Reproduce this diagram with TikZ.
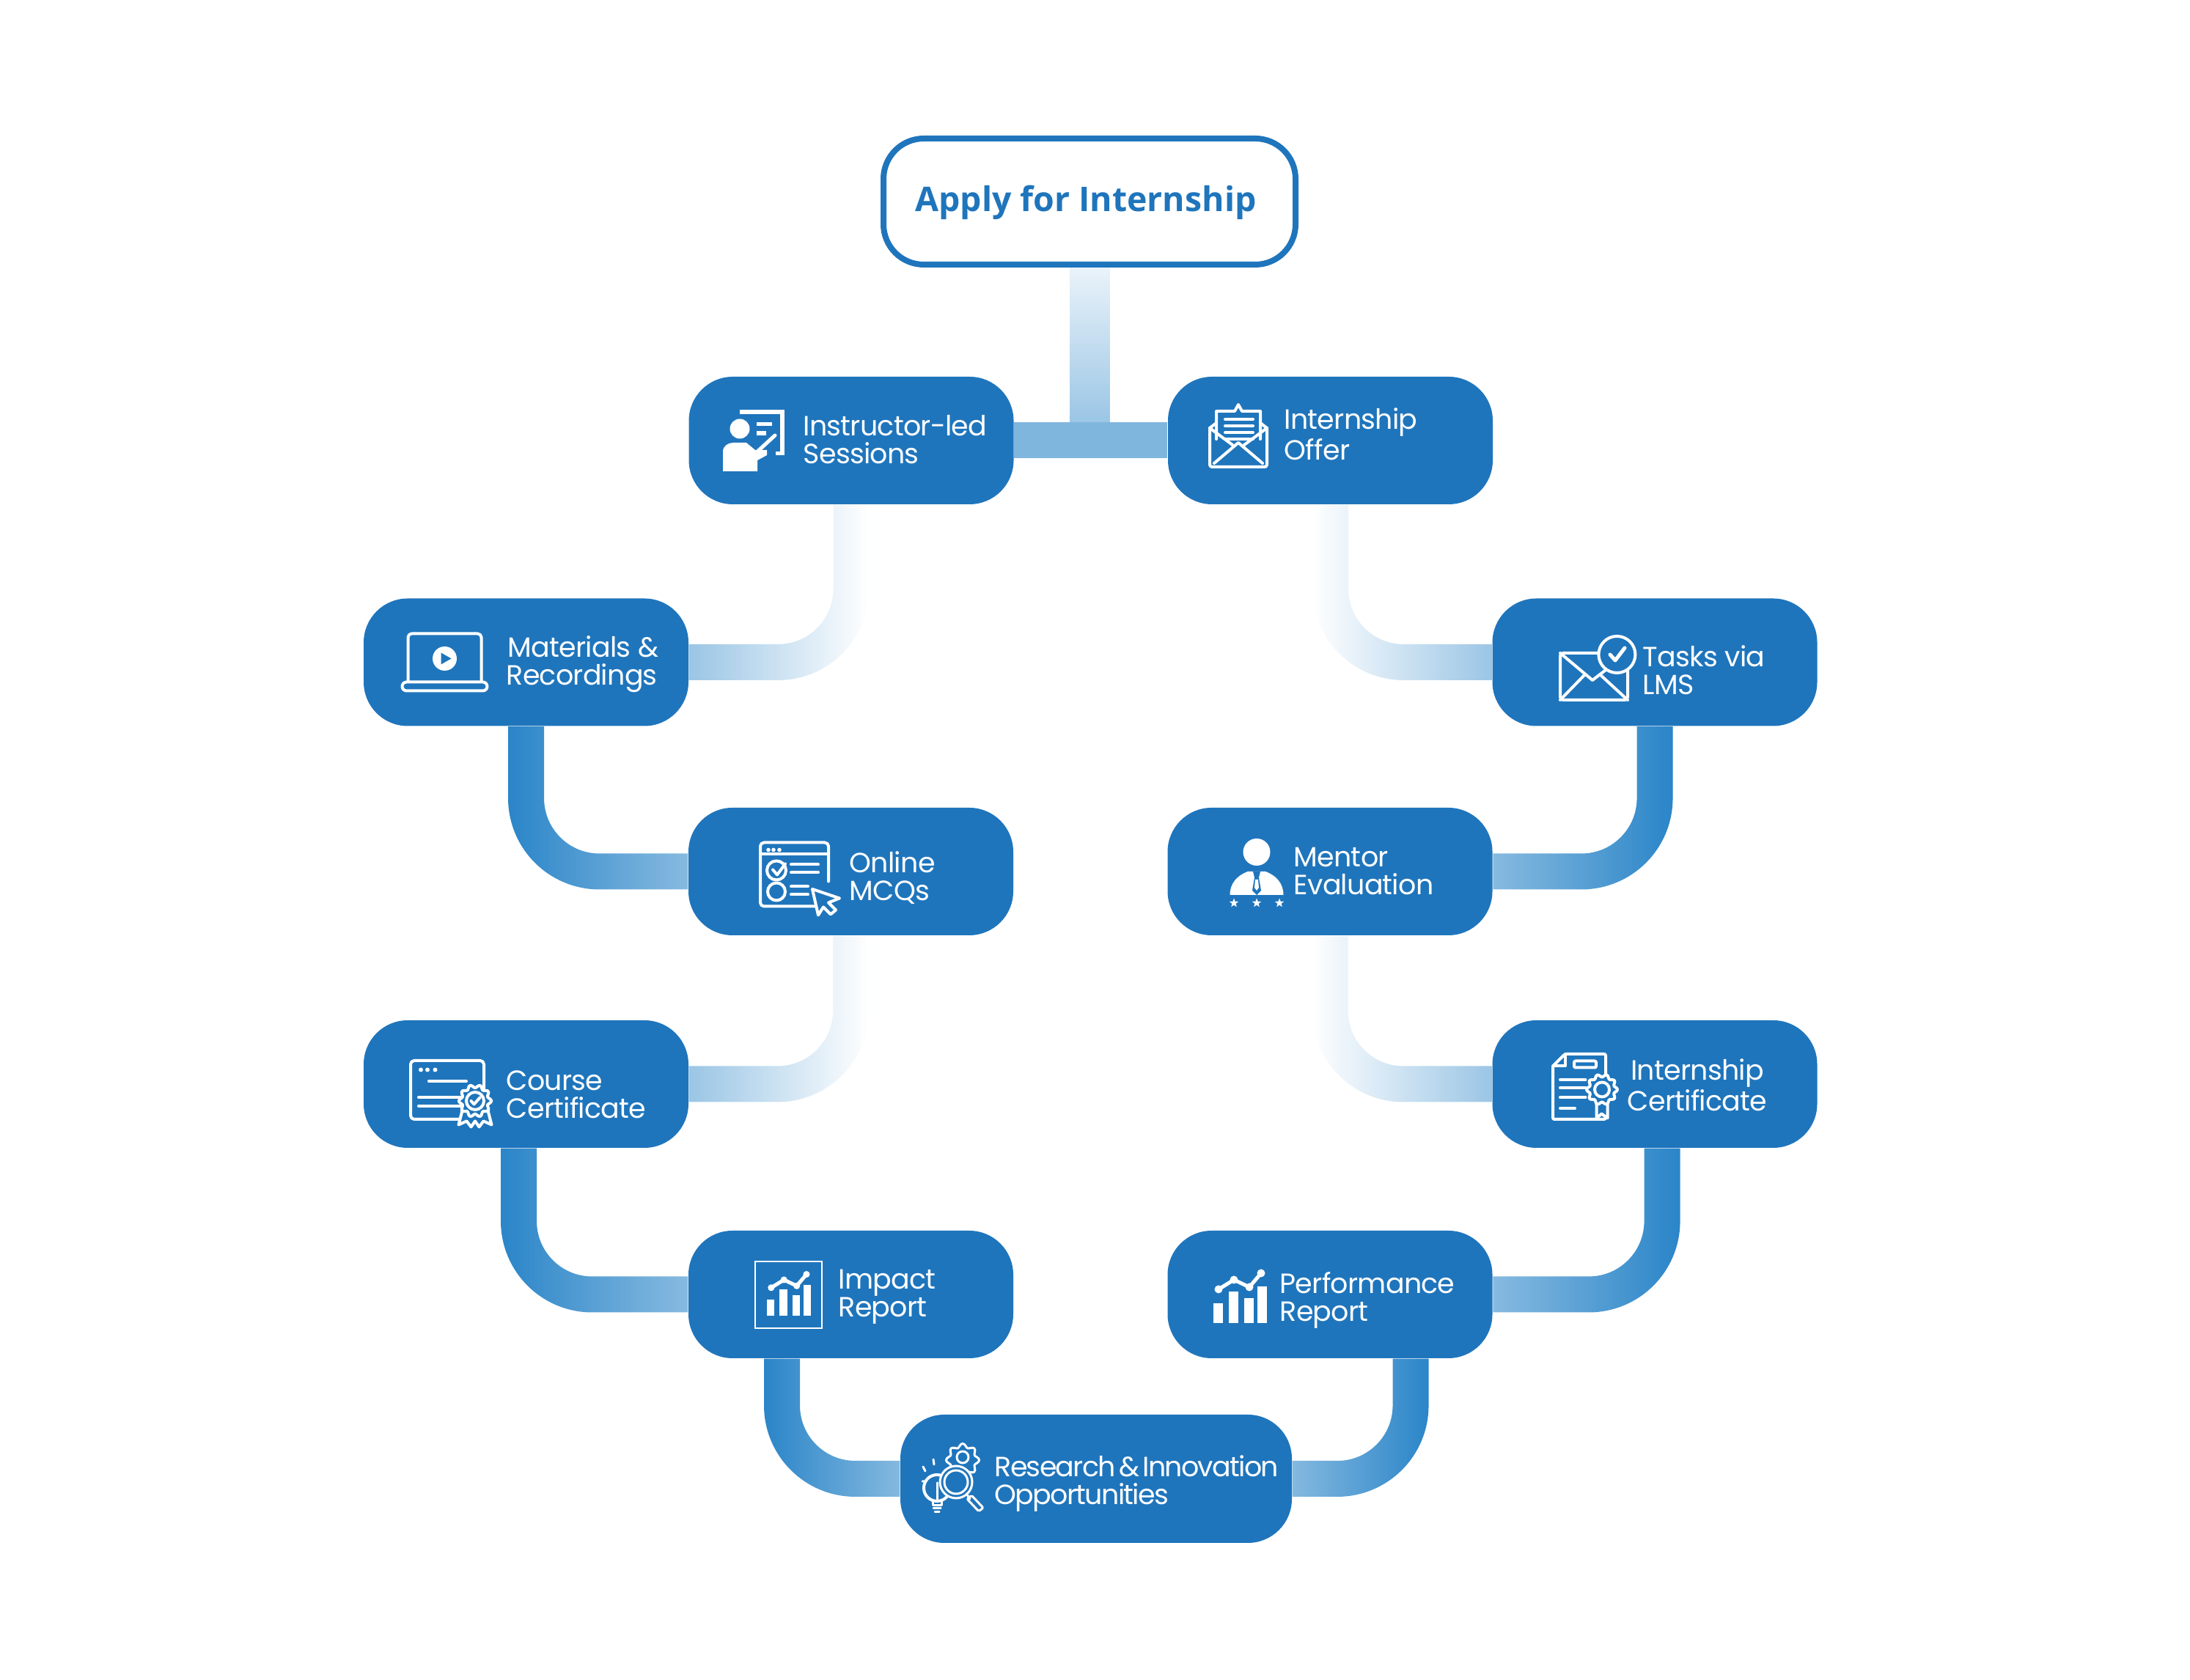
\documentclass[tikz,border=0pt]{standalone}
\usepackage{fontspec}
\setmainfont{Poppins}[LetterSpace=-2]
\newfontfamily\headfont{Open Sans}
\newfontfamily\widefont{Poppins}[LetterSpace=-4.5,WordSpace=0.5]
\usetikzlibrary{fadings,shapes.geometric}
\definecolor{brand}{HTML}{1F75BC}
\definecolor{flow}{HTML}{2A85C8}
\tikzfading[name=ebbright,left color=transparent!48,right color=transparent!100]
\tikzfading[name=ebbleft,left color=transparent!100,right color=transparent!48]
\tikzfading[name=deepright,left color=transparent!0,right color=transparent!48]
\tikzfading[name=deepleft,left color=transparent!48,right color=transparent!0]
\tikzfading[name=drop,top color=transparent!95,bottom color=transparent!48]
\tikzset{
  stage/.style={
    fill=brand,rounded corners=0.6cm,
    minimum width=4.43cm,minimum height=1.74cm,inner sep=0pt
  },
  stagetext/.style={
    text=white,anchor=west,align=left,inner sep=0pt,
    font=\fontsize{10.8}{10.8}\selectfont
  },
  link/.style={draw=flow,line width=0.49cm,rounded corners=1cm},
  trace/.style={draw=white,line width=0.04cm,line join=round,line cap=round},
  solid/.style={fill=white,draw=none},
  pics/seal/.style={code={
    \draw[trace,fill=brand] plot[domain=0:360,samples=65,smooth]
      (\x:{0.2+0.022*cos(10*\x)}) -- cycle;
    \draw[trace] (0,0) circle (0.12);
  }},
  pics/tally/.style={code={
    \foreach \bx/\bh in {0/0.27,0.21/0.43,0.42/0.34,0.6/0.5} {
      \fill[solid] (\bx,0) rectangle (\bx+0.125,\bh);
    }
    \draw[trace,line width=0.05cm] (0.07,0.46) -- (0.28,0.59) -- (0.49,0.49) -- (0.65,0.68);
    \foreach \dx/\dy in {0.07/0.46,0.28/0.59,0.49/0.49,0.65/0.68} {
      \fill[solid] (\dx,\dy) circle (0.055);
    }
  }},
  pics/presenter/.style={code={
    \fill[solid] (-0.19,0.16) circle (0.135);
    \fill[solid] (-0.19,0.36) rectangle (0.42,0.42);
    \fill[solid] (0.36,0.42) rectangle (0.42,-0.2);
    \fill[solid] (0.3,-0.15) rectangle (0.42,-0.2);
    \fill[solid] (0.04,0.2) rectangle (0.25,0.25);
    \fill[solid] (0.04,0.07) rectangle (0.17,0.13);
    \draw[trace,line width=0.05cm] (0.29,0.07) -- (0.04,-0.16);
    \fill[solid] (-0.42,-0.42) -- (-0.42,-0.15) to[out=90,in=180] (-0.28,-0.03)
      -- (-0.1,-0.03) -- (0.02,-0.13) -- (0.18,-0.13) -- (0.18,-0.2) -- (0.05,-0.27)
      -- (0.05,-0.42) -- cycle;
  }},
  pics/openmail/.style={code={
    \draw[trace] (-0.3,-0.05) -- (-0.3,0.33) -- (-0.05,0.33) -- (0,0.42) -- (0.05,0.33)
      -- (0.3,0.33) -- (0.3,-0.05);
    \foreach \ly in {0.22,0.13,0.04,-0.05} {
      \draw[trace] (-0.18,\ly) -- (0.2,\ly);
    }
    \draw[trace,rounded corners=0.03cm] (-0.39,0.1) -- (-0.39,-0.43) -- (0.39,-0.43) -- (0.39,0.1);
    \draw[trace] (-0.39,0.1) -- (-0.3,0.17) (0.39,0.1) -- (0.3,0.17);
    \draw[trace] (-0.39,0.1) -- (-0.08,-0.13) (0.39,0.1) -- (0.08,-0.13);
    \draw[trace] (-0.33,-0.38) -- (0,-0.1) -- (0.33,-0.38);
  }},
  pics/laptop/.style={code={
    \draw[trace,rounded corners=0.05cm] (-0.5,-0.26) -- (-0.5,0.39) -- (0.5,0.39) -- (0.5,-0.26);
    \draw[trace,rounded corners=0.06cm] (-0.58,-0.27) rectangle (0.58,-0.39);
    \fill[solid] (0,0.05) circle (0.165);
    \fill[brand] (-0.05,0.13) -- (0.09,0.05) -- (-0.05,-0.03) -- cycle;
  }},
  pics/quiz/.style={code={
    \draw[trace,rounded corners=0.05cm] (0.39,-0.04) -- (0.39,0.49) -- (-0.54,0.49) -- (-0.54,-0.38) -- (0.3,-0.38);
    \draw[trace] (-0.54,0.33) -- (0.39,0.33);
    \foreach \dx in {-0.43,-0.36,-0.28} {
      \fill[solid] (\dx,0.39) circle (0.028);
    }
    \draw[trace] (-0.32,0.11) circle (0.13);
    \draw[trace] (-0.37,0.12) -- (-0.31,0.05) -- (-0.2,0.2);
    \draw[trace] (-0.32,-0.18) circle (0.12);
    \draw[trace] (-0.12,0.19) -- (0.25,0.19) (-0.12,0.08) -- (0.25,0.08);
    \draw[trace] (-0.12,-0.11) -- (0.11,-0.11) (-0.12,-0.22) -- (0.11,-0.22);
    \draw[trace,fill=brand] (0.17,-0.145) -- (0.54,-0.27) -- (0.39,-0.33) -- (0.49,-0.43)
      -- (0.42,-0.49) -- (0.32,-0.39) -- (0.25,-0.5) -- cycle;
  }},
  pics/diploma/.style={code={
    \draw[trace,rounded corners=0.05cm] (-0.555,-0.345) rectangle (0.445,0.455);
    \foreach \dx in {-0.415,-0.325,-0.22} {
      \fill[solid] (\dx,0.33) circle (0.03);
    }
    \draw[trace] (-0.305,0.175) -- (0.205,0.175);
    \draw[trace] (-0.445,-0.045) -- (0.145,-0.045);
    \draw[trace] (-0.445,-0.165) -- (0.145,-0.165);
    \draw[trace,fill=brand] (0.17,-0.15) -- (0.1,-0.42) -- (0.21,-0.37) -- (0.27,-0.45)
      -- (0.325,-0.37) -- (0.38,-0.45) -- (0.44,-0.37) -- (0.55,-0.42) -- (0.48,-0.15) -- cycle;
    \pic at (0.325,-0.095) {seal};
    \draw[trace] (0.27,-0.095) -- (0.31,-0.14) -- (0.39,-0.05);
  }},
  pics/taskmail/.style={code={
    \draw[trace,rounded corners=0.04cm] (-0.5,-0.44) rectangle (0.42,0.2);
    \draw[trace] (-0.5,0.2) -- (-0.06,-0.17) -- (0.42,0.2);
    \draw[trace] (-0.5,-0.44) -- (-0.17,-0.1) (0.42,-0.44) -- (0.05,-0.1);
    \draw[trace,fill=brand] (0.274,0.18) circle (0.25);
    \draw[trace,line width=0.05cm] (0.18,0.18) -- (0.25,0.1) -- (0.38,0.27);
  }},
  pics/mentorbust/.style={code={
    \fill[solid] (0,0.285) circle (0.185);
    \fill[solid] (-0.365,-0.3) to[out=90,in=200] (-0.12,0.02) -- (0.12,0.02)
      to[out=-20,in=90] (0.365,-0.3) -- cycle;
    \fill[brand] (-0.05,0.02) -- (0.05,0.02) -- (0.03,-0.06) -- (0.06,-0.24)
      -- (0,-0.3) -- (-0.06,-0.24) -- (-0.03,-0.06) -- cycle;
    \fill[solid] (-0.02,-0.09) -- (0.02,-0.09) -- (0.03,-0.2) -- (0,-0.24) -- (-0.03,-0.2) -- cycle;
    \foreach \sx in {-0.31,0,0.31} {
      \node[star,star points=5,star point ratio=2.4,solid,inner sep=0pt,minimum size=0.13cm]
        at (\sx,-0.41) {};
    }
  }},
  pics/certsheet/.style={code={
    \draw[trace,rounded corners=0.02cm] (0.275,-0.05) -- (0.275,0.445) -- (-0.28,0.445)
      -- (-0.445,0.28) -- (-0.445,-0.445) -- (0.275,-0.445) -- (0.275,-0.32);
    \draw[trace] (-0.28,0.445) -- (-0.28,0.28) -- (-0.445,0.28);
    \draw[trace,rounded corners=0.02cm] (-0.155,0.35) rectangle (0.145,0.26);
    \foreach \ly in {0.095,-0.015,-0.145} {
      \draw[trace] (-0.345,\ly) -- (0,\ly);
    }
    \draw[trace] (-0.345,-0.295) -- (-0.145,-0.295);
    \draw[trace,fill=brand] (0.15,-0.12) -- (0.15,-0.43) -- (0.22,-0.37) -- (0.3,-0.43) -- (0.3,-0.12) -- cycle;
    \draw[trace,fill=brand] plot[domain=0:360,samples=65,smooth]
      ({0.225+(0.19+0.02*cos(10*\x))*cos(\x)},{-0.04+(0.19+0.02*cos(10*\x))*sin(\x)}) -- cycle;
    \draw[trace] (0.225,-0.04) circle (0.1);
  }},
  pics/innovation/.style={code={
    \draw[trace,line width=0.03cm] plot[domain=0:360,samples=65,smooth]
      ({0.14+(0.2+0.025*cos(8*\x))*cos(\x)},{0.26+(0.2+0.025*cos(8*\x))*sin(\x)}) -- cycle;
    \draw[trace,line width=0.03cm] (0.14,0.3) circle (0.08);
    \draw[trace,fill=brand] (-0.21,-0.12) circle (0.18);
    \draw[trace,line width=0.03cm] (-0.27,-0.3) rectangle (-0.15,-0.36)
      (-0.26,-0.4) -- (-0.16,-0.4);
    \draw[trace,line width=0.03cm] (-0.24,-0.45) -- (-0.18,-0.45);
    \draw[trace,line width=0.03cm] (-0.21,-0.3) -- (-0.21,-0.05);
    \draw[trace,line width=0.03cm] (-0.4,0.17) -- (-0.37,0.11) (-0.26,0.27) -- (-0.25,0.2) (-0.41,-0.03) -- (-0.39,-0.03);
    \draw[trace,line width=0.03cm,fill=brand] (0.05,-0.04) circle (0.22);
    \draw[trace,line width=0.03cm] (0.05,-0.04) circle (0.16);
    \draw[trace,line width=0.03cm] (0.19,-0.2) -- (0.24,-0.27);
    \draw[trace,line width=0.03cm,rounded corners=0.02cm] (0.2,-0.27) -- (0.26,-0.22) -- (0.42,-0.39) -- (0.36,-0.44) -- cycle;
  }}
}

\begin{document}
\begin{tikzpicture}[x=1cm,y=1cm]
\useasboundingbox (0,0) rectangle (29.87,22.92);

% Boxes first, the links below refer to their names.
\node[draw=brand,fill=white,line width=0.08cm,rounded corners=0.55cm,
      minimum width=5.62cm,minimum height=1.72cm,inner sep=0pt]
      (app) at (14.86,20.17) {};
\node[text=brand,inner sep=0pt,font=\headfont\bfseries\fontsize{13.2}{17}\selectfont]
      (apptxt) at (14.81,20.16) {Apply for Internship};

\foreach \x/\y/\name in {
  11.61/16.91/ins, 18.145/16.91/off,
  7.175/13.885/mat, 22.57/13.885/tsk,
  11.605/11.03/onl, 18.14/11.03/men,
  7.175/8.13/crs, 22.57/8.13/cer,
  11.605/5.26/imp, 18.14/5.26/prf} {
  \node[stage] (\name) at (\x,\y) {};
}
\node[stage,minimum width=5.34cm,minimum height=1.75cm] (res) at (14.95,2.745) {};

\coordinate (tee) at ([yshift=0.245cm]ins.east -| app.south);
\draw[draw=flow,line width=0.55cm,path fading=drop] (app.south) -- (tee);
\draw[draw=flow!60!white,line width=0.49cm] (ins.east) -- (off.west);

\draw[link,path fading=ebbright] (ins.south) |- (mat.east);
\draw[link,path fading=ebbleft] (off.south) |- (tsk.west);
\draw[link,path fading=deepright] (mat.south) |- (onl.west);
\draw[link,path fading=deepleft] (tsk.south) |- (men.east);
\draw[link,path fading=ebbright] (onl.south) |- (crs.east);
\draw[link,path fading=ebbleft] (men.south) |- (cer.west);
\draw[link,path fading=deepright] ([xshift=-0.1cm]crs.south) |- (imp.west);
\draw[link,path fading=deepleft] ([xshift=0.1cm]cer.south) |- (prf.east);
\draw[link,path fading=deepright] ([xshift=-0.94cm]imp.south) |- (res.west);
\draw[link,path fading=deepleft] ([xshift=1.1cm]prf.south) |- (res.east);

\foreach \x/\y/\name/\txt in {
  10.95/16.92/instxt/Instructor-led\\Sessions,
  17.51/17.00/offtxt/Internship\\Offer,
  6.90/13.86/mattxt/{\hspace*{0.02cm}Materials \&\\Recordings},
  22.40/13.78/tsktxt/Tasks via\\LMS,
  11.58/10.94/onltxt/Online\\MCQs,
  17.64/11.03/mentxt/Mentor\\Evaluation,
  6.90/7.99/crstxt/Course\\Certificate,
  11.43/5.23/imptxt/Impact\\Report,
  17.45/5.18/prftxt/Performance\\Report} {
  \node[stagetext] (\name) at (\x,\y) {\txt};
}
\node[stagetext,align=center] (certxt) at (22.19,8.12) {Internship\\Certificate};
\node[stagetext,font=\widefont\fontsize{10.8}{10.8}\selectfont]
      (restxt) at (13.56,2.68) {Research \& Innovation\\Opportunities};

\pic at (10.28,16.91) {presenter};
\pic at (16.89,16.98) {openmail};
\pic at (6.065,13.885) {laptop};
\pic at (10.91,10.935) {quiz};
\pic at (6.155,7.995) {diploma};
\pic at (21.78,13.81) {taskmail};
\pic at (17.14,11.01) {mentorbust};
\pic at (21.625,8.095) {certsheet};
\pic at (12.99,2.74) {innovation};

% Same chart twice, the smaller one sits in a frame.
\draw[draw=white,line width=0.025cm] (10.30,4.80) rectangle (11.21,5.71);
\pic[scale=0.83] at (10.46,4.97) {tally};
\pic at (16.55,4.87) {tally};

\end{tikzpicture}
\end{document}
